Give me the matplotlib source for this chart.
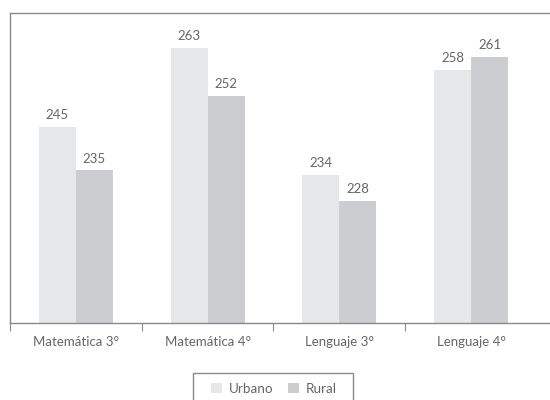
import matplotlib
matplotlib.use("Agg")
import matplotlib.pyplot as plt
from matplotlib.patches import Rectangle
import numpy as np

categorias = ["Matemática 3°", "Matemática 4°", "Lenguaje 3°", "Lenguaje 4°"]
urbano = [245, 263, 234, 258]
rural = [235, 252, 228, 261]

COR_URBANO = "#e6e7e8"
COR_RURAL = "#cbcdd0"
COR_TEXTO = "#666666"
COR_EIXO = "#8a8a8a"

plt.rcParams["font.family"] = ["Lato", "DejaVu Sans"]

fig = plt.figure(figsize=(5.5, 4), dpi=100)
ax = fig.add_axes([10 / 550, 77 / 400, 545 / 550, 310 / 400])

x = np.arange(len(categorias))
larg = 0.28
b1 = ax.bar(x - larg / 2, urbano, larg, color=COR_URBANO, label="Urbano")
b2 = ax.bar(x + larg / 2, rural, larg, color=COR_RURAL, label="Rural")

for barras, vals in ((b1, urbano), (b2, rural)):
    for b, v in zip(barras, vals):
        ax.annotate(str(v), (b.get_x() + b.get_width() / 2, v),
                    xytext=(0, 4), textcoords="offset points",
                    ha="center", va="bottom", fontsize=9.5, color=COR_TEXTO)

ax.set_ylim(200, 271)
ax.set_xlim(-0.5, 3.5 + 18 / 131.7)

ax.set_yticks([])
ax.set_xticks([-0.5, 0.5, 1.5, 2.5])
ax.set_xticklabels([])
ax.set_xticks(x, minor=True)
ax.set_xticklabels(categorias, minor=True)
ax.tick_params(axis="x", which="major", length=6, color=COR_EIXO, width=0.8)
ax.tick_params(axis="x", which="minor", length=0, pad=9, labelsize=9.5,
               labelcolor=COR_TEXTO)

for lado in ("left", "top", "bottom"):
    ax.spines[lado].set_color(COR_EIXO)
    ax.spines[lado].set_linewidth(1.0)
ax.spines["right"].set_visible(False)

# legenda sem moldura; a caixa e desenhada a parte (corta na borda inferior)
leg = fig.legend(handles=[b1, b2], loc="center",
                 bbox_to_anchor=(274 / 550, 11 / 400), ncol=2,
                 fontsize=9.7, frameon=False,
                 handlelength=0.8, handleheight=0.8, handletextpad=0.5,
                 columnspacing=1.1, borderpad=0, borderaxespad=0,
                 labelcolor=COR_TEXTO)
fig.patches.append(Rectangle((193 / 550, -10 / 400), 160 / 550, 37 / 400,
                             transform=fig.transFigure, fill=False,
                             edgecolor=COR_EIXO, linewidth=1.0))

fig.savefig("out.png", dpi=100)
